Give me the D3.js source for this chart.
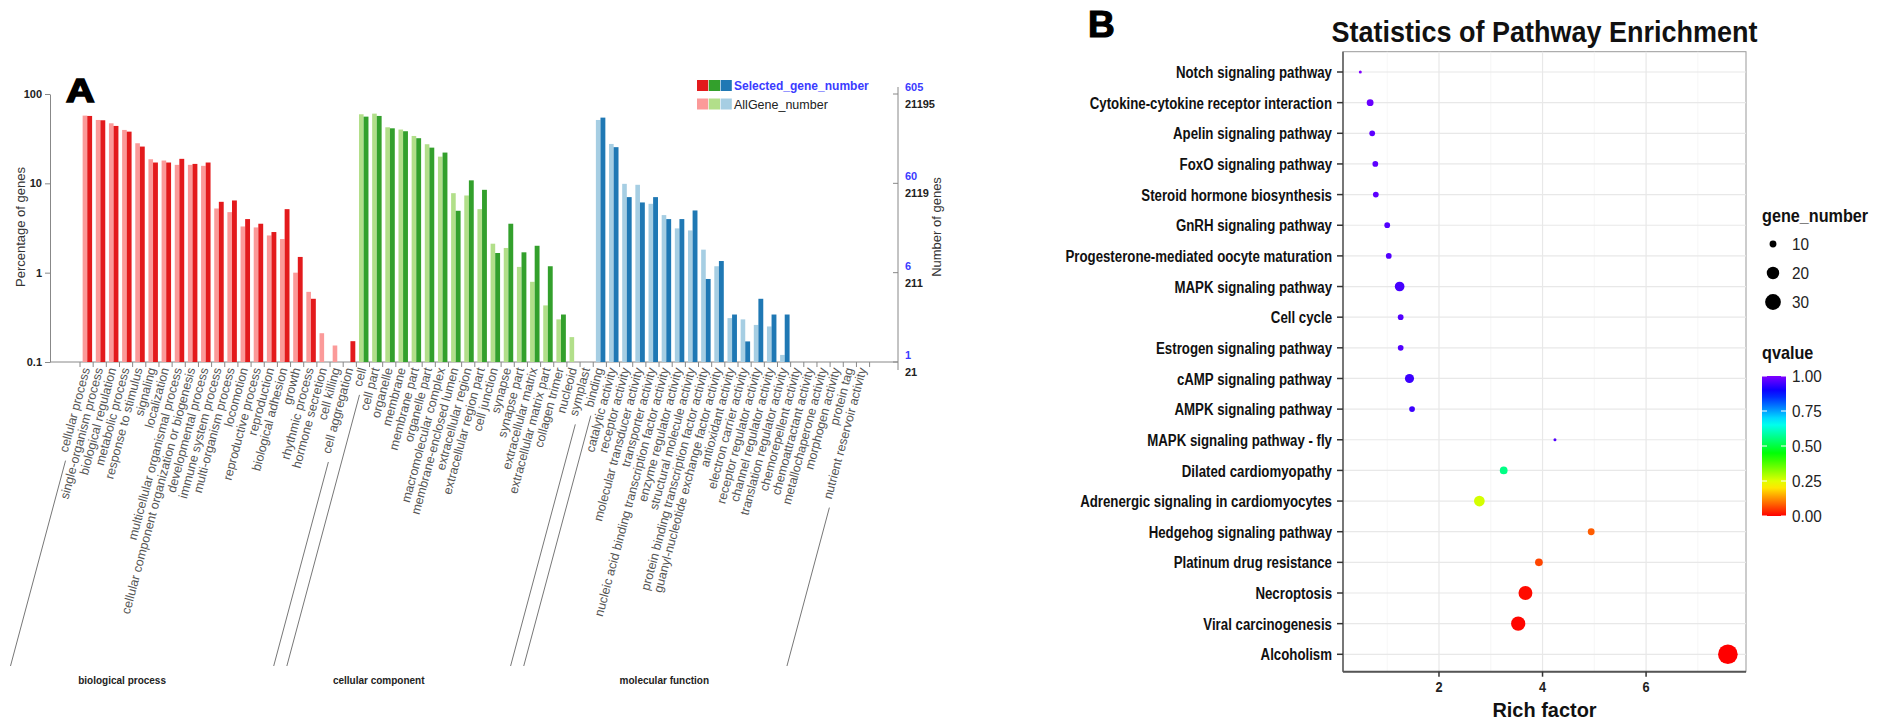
<!DOCTYPE html>
<html>
<head>
<meta charset="utf-8">
<script src="https://cdn.jsdelivr.net/npm/d3@7"></script>
<style>
  body { margin: 0; background: #fff; }
  text { font-family: "Liberation Sans", Arial, Helvetica, sans-serif; }
</style>
</head>
<body>
<svg id="chart" width="1902" height="728"></svg>
<script>
// ---- panel A data (percentage of genes, light = AllGene, dark = Selected) ----
var bpTerms = ['cellular process', 'single-organism process', 'biological regulation', 'metabolic process',
  'response to stimulus', 'signaling', 'localization', 'multicellular organismal process',
  'cellular component organization or biogenesis', 'developmental process', 'immune system process',
  'multi-organism process', 'locomotion', 'reproductive process', 'reproduction', 'biological adhesion',
  'growth', 'rhythmic process', 'hormone secretion', 'cell killing', 'cell aggregation'];
var bpAll = [57.3, 51.2, 47.0, 39.6, 28.1, 18.6, 18.0, 16.1, 16.1, 15.7, 5.23, 4.76, 3.29, 3.21, 2.61, 2.38, 1.0, 0.61, 0.21, 0.153, null];
var bpSel = [56.8, 50.8, 43.9, 37.9, 25.8, 17.1, 17.1, 18.8, 16.5, 17.1, 6.21, 6.43, 3.98, 3.53, 2.85, 5.14, 1.5, 0.51, null, null, 0.171];

var ccTerms = ['cell', 'cell part', 'organelle', 'membrane', 'membrane part', 'organelle part',
  'macromolecular complex', 'membrane-enclosed lumen', 'extracellular region', 'extracellular region part',
  'cell junction', 'synapse', 'synapse part', 'extracellular matrix', 'extracellular matrix part',
  'collagen trimer', 'nucleoid', 'symplast'];
var ccAll = [59.3, 60.3, 42.4, 40.0, 33.9, 27.4, 19.9, 7.76, 7.31, 5.14, 2.11, 1.89, 1.16, 0.79, 0.43, 0.30, 0.19, null];
var ccSel = [55.8, 56.8, 41.3, 38.3, 32.0, 25.1, 22.1, 4.93, 10.8, 8.46, 1.66, 3.53, 1.69, 2.0, 1.18, 0.34, null, null];

var mfTerms = ['binding', 'catalytic activity', 'receptor activity', 'molecular transducer activity',
  'transporter activity', 'nucleic acid binding transcription factor activity', 'enzyme regulator activity',
  'structural molecule activity', 'protein binding transcription factor activity',
  'guanyl-nucleotide exchange factor activity', 'antioxidant activity', 'electron carrier activity',
  'receptor regulator activity', 'channel regulator activity', 'translation regulator activity',
  'chemorepellent activity', 'chemoattractant activity', 'metallochaperone activity', 'morphogen activity',
  'protein tag', 'nutrient reservoir activity'];
var mfAll = [51.2, 27.6, 9.87, 9.63, 5.90, 4.41, 3.13, 2.97, 1.81, 1.18, 0.31, 0.30, 0.26, 0.25, 0.12, null, null, null, null, null, null];
var mfSel = [54.4, 25.4, 7.01, 6.11, 7.01, 3.98, 3.98, 4.97, 0.85, 1.35, 0.34, 0.17, 0.51, 0.34, 0.34, null, null, null, null, null, null];

var groupNames = ['biological process', 'cellular component', 'molecular function'];
var pctTicks = [0.1, 1, 10, 100];
var selTickLabels = ['1', '6', '60', '605'];
var allTickLabels = ['21', '211', '2119', '21195'];

// ---- panel B data ----
var pathways = ['Notch signaling pathway', 'Cytokine-cytokine receptor interaction', 'Apelin signaling pathway',
  'FoxO signaling pathway', 'Steroid hormone biosynthesis', 'GnRH signaling pathway',
  'Progesterone-mediated oocyte maturation', 'MAPK signaling pathway', 'Cell cycle',
  'Estrogen signaling pathway', 'cAMP signaling pathway', 'AMPK signaling pathway',
  'MAPK signaling pathway - fly', 'Dilated cardiomyopathy', 'Adrenergic signaling in cardiomyocytes',
  'Hedgehog signaling pathway', 'Platinum drug resistance', 'Necroptosis', 'Viral carcinogenesis', 'Alcoholism'];
var richFactor = [0.48, 0.67, 0.71, 0.77, 0.78, 1.00, 1.03, 1.24, 1.26, 1.26, 1.43, 1.48, 4.24, 3.25, 2.78, 4.94, 3.93, 3.67, 3.53, 7.58];
var geneNumber = [8, 10, 9, 9, 9, 9, 9, 14, 9, 9, 13, 9, 8, 11, 16, 10, 11, 24, 25, 45];
var qvalue = [1.0, 0.98, 0.97, 0.97, 0.97, 0.96, 0.96, 0.95, 0.96, 0.96, 0.94, 0.94, 0.96, 0.56, 0.26, 0.08, 0.06, 0.01, 0.005, 0.0];
var richTicks = [2, 4, 6];
var sizeBreaks = [10, 20, 30];
var qBreaks = [0, 0.25, 0.5, 0.75, 1];

var svg = d3.select('#chart');

// ================= panel A =================
var terms = bpTerms.concat(ccTerms, mfTerms);
var allPct = bpAll.concat(ccAll, mfAll);
var selPct = bpSel.concat(ccSel, mfSel);
var groupSize = [bpTerms.length, ccTerms.length, mfTerms.length];
var rows = [];
groupSize.forEach(function(n, g) {
    for (var k = 0; k < n; k++) rows.push({ g: g });
});
rows.forEach(function(d, i) { d.term = terms[i]; d.all = allPct[i]; d.sel = selPct[i]; });

var lightCol = ['#fb9a99', '#b2df8a', '#a6cee3'];
var darkCol = ['#e31a1c', '#33a02c', '#1f78b4'];

var x = d3.scaleBand().domain(terms).range([80, 869.6]);
var bw = x.bandwidth();
var y = d3.scaleLog().domain([0.1, 100]).range([362, 94]);
var rightX = 898;
var gA = svg.append('g');

// left axis
gA.append('g').attr('transform', 'translate(50,0)')
    .call(d3.axisLeft(y).tickValues(pctTicks).tickFormat(d3.format('~g')).tickSize(5).tickSizeOuter(0))
    .call(function(g) {
        g.select('.domain').attr('stroke', '#888');
        g.selectAll('.tick line').attr('stroke', '#888');
        g.selectAll('.tick text').attr('font-size', 11).attr('font-weight', 'bold')
            .attr('fill', '#222').attr('font-family', null);
    });
gA.append('text').attr('transform', 'translate(25,227) rotate(-90)')
    .attr('text-anchor', 'middle').attr('font-size', 13).attr('fill', '#333')
    .text('Percentage of genes');

// baseline + band ticks
gA.append('line').attr('x1', 50).attr('x2', rightX).attr('y1', y(0.1)).attr('y2', y(0.1)).attr('stroke', '#888');
gA.selectAll('line.xt').data(terms.map(function(t) { return x(t); }).concat([x.range()[1]]))
    .enter().append('line').attr('class', 'xt')
    .attr('x1', function(d) { return d; }).attr('x2', function(d) { return d; })
    .attr('y1', y(0.1)).attr('y2', y(0.1) + 5).attr('stroke', '#888');

// bars
gA.selectAll('rect.all').data(rows.filter(function(d) { return d.all != null; }))
    .enter().append('rect').attr('class', 'all')
    .attr('x', function(d) { return x(d.term) + bw * 0.2; })
    .attr('width', bw * 0.35)
    .attr('y', function(d) { return y(d.all); })
    .attr('height', function(d) { return y(0.1) - y(d.all); })
    .attr('fill', function(d) { return lightCol[d.g]; });
gA.selectAll('rect.sel').data(rows.filter(function(d) { return d.sel != null; }))
    .enter().append('rect').attr('class', 'sel')
    .attr('x', function(d) { return x(d.term) + bw * 0.55; })
    .attr('width', bw * 0.37)
    .attr('y', function(d) { return y(d.sel); })
    .attr('height', function(d) { return y(0.1) - y(d.sel); })
    .attr('fill', function(d) { return darkCol[d.g]; });

// rotated category labels
var labEnd = function(d) { return x(d.term) + bw / 2 + 3.5; };
var labels = gA.selectAll('text.xl').data(rows).enter().append('text').attr('class', 'xl')
    .attr('transform', function(d) { return 'translate(' + labEnd(d) + ',369) rotate(-75)'; })
    .attr('text-anchor', 'end').attr('font-size', 12.5).attr('fill', '#555')
    .text(function(d) { return d.term; });

// group brackets: continue the first/last label lines down to the group name
var ang = 75 * Math.PI / 180, ux = -Math.cos(ang), uy = Math.sin(ang);
var yBottom = 666;
var nameShift = [-20, -20, 9];
groupNames.forEach(function(name, g) {
    var idx = [];
    rows.forEach(function(d, i) { if (d.g === g) idx.push(i); });
    var foot = [];
    [idx[0], idx[idx.length - 1]].forEach(function(i) {
        var L = labels.nodes()[i].getComputedTextLength() + 8;
        var ex = labEnd(rows[i]), ey = 369;
        var t = (yBottom - ey) / uy;
        gA.append('line')
            .attr('x1', ex + ux * L).attr('y1', ey + uy * L)
            .attr('x2', ex + ux * t).attr('y2', yBottom)
            .attr('stroke', '#777').attr('stroke-width', 1);
        foot.push(ex + ux * t);
    });
    gA.append('text').attr('x', (foot[0] + foot[1]) / 2 + nameShift[g]).attr('y', 684)
        .attr('text-anchor', 'middle').attr('font-size', 10).attr('font-weight', 'bold').attr('fill', '#222')
        .text(name);
});

// right axis (gene counts)
gA.append('line').attr('x1', rightX).attr('x2', rightX).attr('y1', 87).attr('y2', 370).attr('stroke', '#888');
var rt = gA.selectAll('g.rt').data(pctTicks).enter().append('g').attr('class', 'rt')
    .attr('transform', function(d) { return 'translate(' + rightX + ',' + y(d) + ')'; });
rt.append('line').attr('x1', -5).attr('x2', 0).attr('stroke', '#888');
rt.append('text').attr('x', 7).attr('y', -3).attr('font-size', 11).attr('font-weight', 'bold')
    .attr('fill', '#3b3bff').text(function(d, i) { return selTickLabels[i]; });
rt.append('text').attr('x', 7).attr('y', 14).attr('font-size', 11).attr('font-weight', 'bold')
    .attr('fill', '#222').text(function(d, i) { return allTickLabels[i]; });
gA.append('text').attr('transform', 'translate(941,227) rotate(-90)')
    .attr('text-anchor', 'middle').attr('font-size', 13).attr('fill', '#333')
    .text('Number of genes');

// legend
var legA = gA.append('g').attr('transform', 'translate(697,80)');
legA.selectAll('rect.d').data(darkCol).enter().append('rect')
    .attr('x', function(d, i) { return i * 11.8; }).attr('y', 0).attr('width', 11.2).attr('height', 11)
    .attr('fill', function(d) { return d; });
legA.selectAll('rect.l').data(lightCol).enter().append('rect')
    .attr('x', function(d, i) { return i * 11.8; }).attr('y', 18.5).attr('width', 11.2).attr('height', 11)
    .attr('fill', function(d) { return d; });
legA.append('text').attr('x', 37).attr('y', 10).attr('font-size', 12).attr('font-weight', 'bold')
    .attr('fill', '#3b3bff').text('Selected_gene_number');
legA.append('text').attr('x', 37).attr('y', 28.5).attr('font-size', 12.5)
    .attr('fill', '#222').text('AllGene_number');

// panel letter
gA.append('text').attr('transform', 'translate(66,101.7) scale(1.2,1)')
    .attr('font-size', 33).attr('font-weight', 'bold').attr('fill', '#000')
    .attr('stroke', '#000').attr('stroke-width', 1.6).text('A');

// ================= panel B =================
var gB = svg.append('g');
var pTop = 51.7, pBot = 671.7;
var bx = d3.scaleLinear().domain([0.146, 7.93]).range([1343, 1746]);
var by = d3.scalePoint().domain(pathways).range([72, 654.3]);
var pL = bx.range()[0], pR = bx.range()[1];
var sq = 0.78; // text in this panel is horizontally condensed

gB.append('rect').attr('x', pL).attr('y', pTop)
    .attr('width', pR - pL).attr('height', pBot - pTop)
    .attr('fill', '#fff').attr('stroke', '#999');
gB.selectAll('line.gm').data([1, 3, 5, 7]).enter().append('line')
    .attr('x1', bx).attr('x2', bx).attr('y1', pTop).attr('y2', pBot)
    .attr('stroke', '#f2f2f2').attr('stroke-width', 0.7);
gB.selectAll('line.gx').data(richTicks).enter().append('line')
    .attr('x1', bx).attr('x2', bx).attr('y1', pTop).attr('y2', pBot)
    .attr('stroke', '#e8e8e8').attr('stroke-width', 1.2);
gB.selectAll('line.gy').data(pathways).enter().append('line')
    .attr('x1', pL).attr('x2', pR)
    .attr('y1', by).attr('y2', by)
    .attr('stroke', '#e8e8e8').attr('stroke-width', 1.2);

// axis lines
gB.append('line').attr('x1', pL).attr('x2', pL).attr('y1', pTop).attr('y2', pBot)
    .attr('stroke', '#777').attr('stroke-width', 2);
gB.append('line').attr('x1', pL).attr('x2', pR).attr('y1', pBot).attr('y2', pBot)
    .attr('stroke', '#555').attr('stroke-width', 2);

// y ticks + labels
gB.selectAll('line.yt').data(pathways).enter().append('line')
    .attr('x1', pL - 6).attr('x2', pL).attr('y1', by).attr('y2', by)
    .attr('stroke', '#333').attr('stroke-width', 1.5);
gB.selectAll('text.yl').data(pathways).enter().append('text')
    .attr('transform', function(d) { return 'translate(' + (pL - 11) + ',' + by(d) + ') scale(' + sq + ',1)'; })
    .attr('dy', '0.36em').attr('text-anchor', 'end').attr('font-size', 17).attr('font-weight', 'bold')
    .attr('fill', '#111').text(function(d) { return d; });

// x ticks + labels
gB.selectAll('line.xt').data(richTicks).enter().append('line')
    .attr('x1', bx).attr('x2', bx).attr('y1', pBot).attr('y2', pBot + 5)
    .attr('stroke', '#333').attr('stroke-width', 1.5);
gB.selectAll('text.xl').data(richTicks).enter().append('text')
    .attr('transform', function(d) { return 'translate(' + bx(d) + ',692) scale(0.85,1)'; })
    .attr('text-anchor', 'middle').attr('font-size', 15).attr('font-weight', 'bold').attr('fill', '#222')
    .text(function(d) { return d; });
gB.append('text')
    .attr('transform', 'translate(' + (pL + pR) / 2 + ',717) scale(0.95,1)')
    .attr('text-anchor', 'middle').attr('font-size', 21).attr('font-weight', 'bold').attr('fill', '#111')
    .text('Rich factor');

// title and letter
gB.append('text')
    .attr('transform', 'translate(' + (pL + pR) / 2 + ',41.5) scale(0.9,1)')
    .attr('text-anchor', 'middle').attr('font-size', 30).attr('font-weight', 'bold').attr('fill', '#111')
    .text('Statistics of Pathway Enrichment');
gB.append('text').attr('x', 1088).attr('y', 36.7)
    .attr('font-size', 37).attr('font-weight', 'bold').attr('fill', '#000')
    .attr('stroke', '#000').attr('stroke-width', 1.2).text('B');

// size + colour scales
var sizeT = d3.scaleLinear().domain([8, 45]).range([0, 1]).clamp(true);
function rad(g) { return 1.5 + 8.3 * Math.sqrt(sizeT(g)); }
function qColor(q) { return d3.hsl(270 * q, 1, 0.5).toString(); }

var pts = pathways.map(function(p, i) {
    return { p: p, rf: richFactor[i], n: geneNumber[i], q: qvalue[i] };
});
gB.selectAll('circle.pt').data(pts).enter().append('circle')
    .attr('cx', function(d) { return bx(d.rf); })
    .attr('cy', function(d) { return by(d.p); })
    .attr('r', function(d) { return rad(d.n); })
    .attr('fill', function(d) { return qColor(d.q); });

// legend: gene_number
var lx = 1762;
gB.append('text').attr('transform', 'translate(' + lx + ',222) scale(0.9,1)')
    .attr('font-size', 18).attr('font-weight', 'bold').attr('fill', '#111').text('gene_number');
var sizeY = d3.scalePoint().domain(sizeBreaks).range([244, 302]);
gB.selectAll('circle.lg').data(sizeBreaks).enter().append('circle')
    .attr('cx', lx + 11).attr('cy', sizeY).attr('r', rad).attr('fill', '#000');
gB.selectAll('text.lg').data(sizeBreaks).enter().append('text')
    .attr('transform', function(d) { return 'translate(' + (lx + 30) + ',' + sizeY(d) + ') scale(0.9,1)'; })
    .attr('dy', '0.36em').attr('font-size', 17).attr('fill', '#222').text(function(d) { return d; });

// legend: qvalue colourbar
gB.append('text').attr('transform', 'translate(' + lx + ',359) scale(0.9,1)')
    .attr('font-size', 18).attr('font-weight', 'bold').attr('fill', '#111').text('qvalue');
var qy = d3.scaleLinear().domain([0, 1]).range([516, 376]);
var grad = svg.append('defs').append('linearGradient').attr('id', 'qgrad')
    .attr('x1', 0).attr('y1', 1).attr('x2', 0).attr('y2', 0);
grad.selectAll('stop').data(d3.range(0, 1.0001, 0.05)).enter().append('stop')
    .attr('offset', function(d) { return d; })
    .attr('stop-color', qColor);
gB.append('rect').attr('x', lx).attr('y', qy(1)).attr('width', 24).attr('height', qy(0) - qy(1))
    .attr('fill', 'url(#qgrad)');
gB.selectAll('line.qt').data(qBreaks).enter().append('line')
    .attr('x1', lx).attr('x2', lx + 5).attr('y1', qy).attr('y2', qy).attr('stroke', '#fff');
gB.selectAll('line.qt2').data(qBreaks).enter().append('line')
    .attr('x1', lx + 19).attr('x2', lx + 24).attr('y1', qy).attr('y2', qy).attr('stroke', '#fff');
gB.selectAll('text.ql').data(qBreaks).enter().append('text')
    .attr('transform', function(d) { return 'translate(' + (lx + 30) + ',' + qy(d) + ') scale(0.9,1)'; })
    .attr('dy', '0.36em').attr('font-size', 17).attr('fill', '#222')
    .text(d3.format('.2f'));
</script>
</body>
</html>
